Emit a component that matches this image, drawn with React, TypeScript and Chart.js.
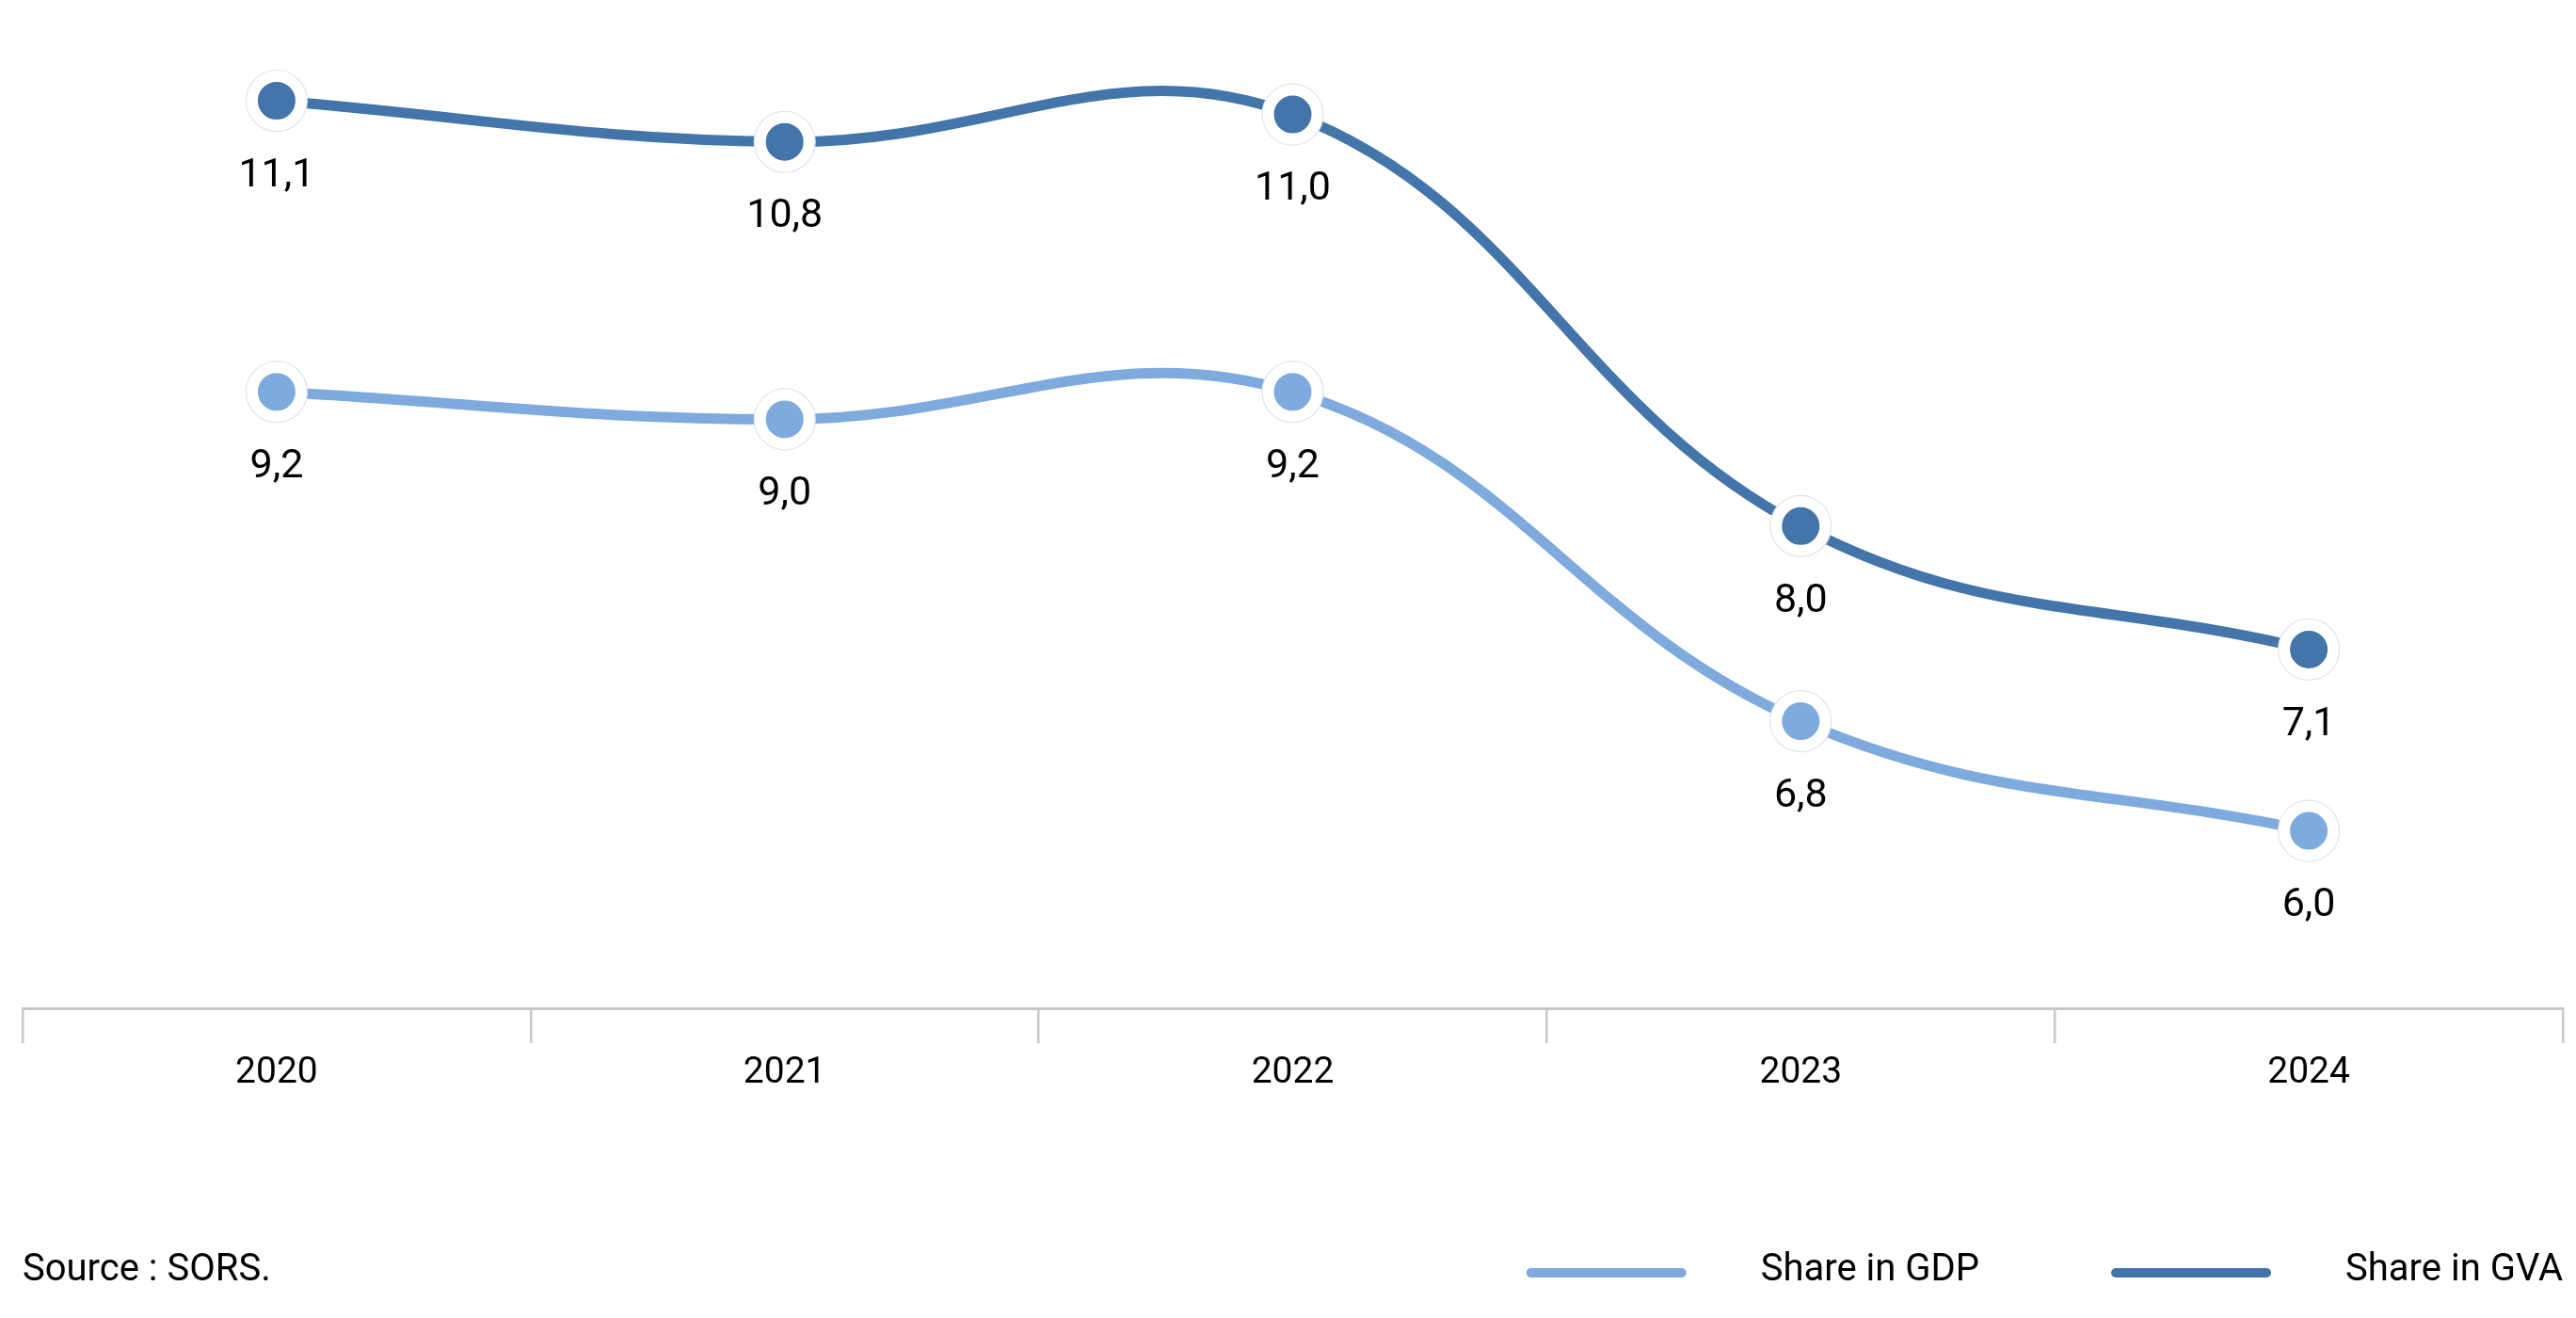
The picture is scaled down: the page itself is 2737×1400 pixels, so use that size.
import React, { useEffect, useRef } from 'react';
import { Chart, registerables } from 'chart.js';

Chart.register(...registerables);

const categories: string[] = ['2020', '2021', '2022', '2023', '2024'];
const gdpValues: number[] = [9.2, 9.0, 9.2, 6.8, 6.0];
const gvaValues: number[] = [11.1, 10.8, 11.0, 8.0, 7.1];
const seriesLabels: string[] = ['Share in GDP', 'Share in GVA'];
const sourceText = 'Source : SORS.';

const GDP_COLOR = '#7EAADE';
const GVA_COLOR = '#4475AA';
const FONT = 'Roboto';

const fmt = (v: number) => v.toFixed(1).replace('.', ',');

const overlayPlugin = {
  id: 'overlay',
  afterDatasetsDraw(chart: any) {
    const ctx = chart.ctx;
    ctx.save();
    chart.data.datasets.forEach((ds: any, i: number) => {
      const meta = chart.getDatasetMeta(i);
      meta.data.forEach((pt: any, j: number) => {
        const { x, y } = pt.getProps(['x', 'y'], true);
        ctx.beginPath();
        ctx.arc(x, y, 32.5, 0, Math.PI * 2);
        ctx.strokeStyle = '#dbe5ef';
        ctx.lineWidth = 1.2;
        ctx.stroke();
        ctx.fillStyle = '#000';
        ctx.font = `43px ${FONT}`;
        ctx.textAlign = 'center';
        ctx.textBaseline = 'middle';
        ctx.fillText(fmt(ds.data[j]), x, y + 80);
      });
    });
    ctx.restore();
  },
  afterDraw(chart: any) {
    const ctx = chart.ctx;
    const area = chart.chartArea;
    const y = 1350;
    ctx.save();
    ctx.font = `40px ${FONT}`;
    ctx.fillStyle = '#000';
    ctx.textBaseline = 'middle';
    ctx.textAlign = 'left';
    ctx.fillText(sourceText, area.left, y);

    const lineLen = 170;
    const lineGap = 79;
    const itemGap = 140;
    let xRight = area.right;
    const ds = chart.data.datasets;
    for (let i = ds.length - 1; i >= 0; i--) {
      const label = ds[i].label;
      const w = ctx.measureText(label).width;
      const textX = xRight - w;
      ctx.fillStyle = '#000';
      ctx.fillText(label, textX, y);
      const lineEnd = textX - lineGap;
      const lineStart = lineEnd - lineLen;
      ctx.beginPath();
      ctx.lineCap = 'round';
      ctx.lineWidth = 10;
      ctx.strokeStyle = ds[i].borderColor;
      ctx.moveTo(lineStart + 5, y + 2);
      ctx.lineTo(lineEnd - 5, y + 2);
      ctx.stroke();
      xRight = lineStart - itemGap;
    }
    ctx.restore();
  },
};

export default function App() {
  const canvasRef = useRef<HTMLCanvasElement | null>(null);

  useEffect(() => {
    document.body.style.margin = '0';
    const canvas = canvasRef.current;
    if (!canvas) return;
    Chart.defaults.font.family = FONT;
    const chart = new Chart(canvas, {
      type: 'line',
      data: {
        labels: categories,
        datasets: [
          {
            label: seriesLabels[0],
            data: gdpValues,
            yAxisID: 'y1',
            borderColor: GDP_COLOR,
            backgroundColor: GDP_COLOR,
            borderWidth: 11,
            tension: 0.4,
            pointRadius: 26.25,
            pointBorderWidth: 12.5,
            pointBorderColor: '#ffffff',
            pointBackgroundColor: GDP_COLOR,
            borderCapStyle: 'round',
            clip: false as any,
          },
          {
            label: seriesLabels[1],
            data: gvaValues,
            yAxisID: 'y',
            borderColor: GVA_COLOR,
            backgroundColor: GVA_COLOR,
            borderWidth: 11,
            tension: 0.4,
            pointRadius: 26.25,
            pointBorderWidth: 12.5,
            pointBorderColor: '#ffffff',
            pointBackgroundColor: GVA_COLOR,
            borderCapStyle: 'round',
            clip: false as any,
          },
        ],
      },
      options: {
        responsive: false,
        animation: false,
        devicePixelRatio: 1,
        layout: { autoPadding: false, padding: { top: 20, left: 24, right: 14, bottom: 227 } },
        plugins: {
          legend: { display: false },
          tooltip: { enabled: false },
        },
        scales: {
          x: {
            type: 'category',
            offset: true,
            grid: {
              offset: true,
              drawOnChartArea: false,
              drawTicks: true,
              tickLength: 37,
              color: '#c8c8c8',
              lineWidth: 2.5,
            },
            border: { display: true, color: '#c8c8c8', width: 3 },
            ticks: {
              color: '#000',
              font: { size: 39, family: FONT },
              padding: 9,
              maxRotation: 0,
            },
          },
          y: {
            display: false,
            min: 4.484,
            max: 11.697,
          },
          y1: {
            display: false,
            min: 4.706,
            max: 11.919,
          },
        },
      },
      plugins: [overlayPlugin],
    });
    return () => chart.destroy();
  }, []);

  return (
    <div style={{ position: 'fixed', left: 0, top: 0, width: '2737px', height: '1400px', background: '#fff' }}>
      <canvas ref={canvasRef} width={2737} height={1400} />
    </div>
  );
}
